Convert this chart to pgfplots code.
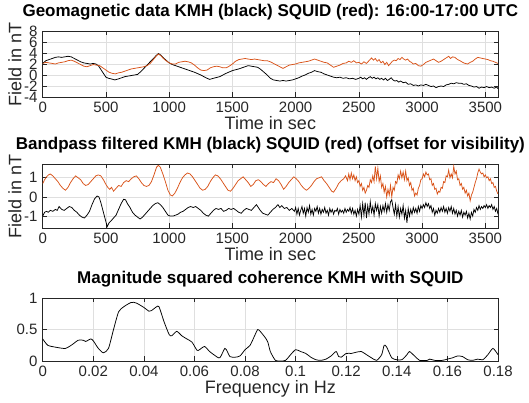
\documentclass[border=0pt]{standalone}
\usepackage{fontspec}
\setmainfont{Liberation Sans}
\usepackage{pgfplots}
\pgfplotsset{compat=1.18}
\definecolor{mred}{RGB}{217,83,25}
\definecolor{axgray}{RGB}{38,38,38}
\definecolor{gridgray}{RGB}{223,223,223}
\pgfplotsset{matlab/.style={
  scale only axis, width=455.3pt,
  axis line style={axgray, line width=0.6pt},
  tick style={axgray, line width=0.6pt},
  tick align=inside, major tick length=4.5pt,
  grid=major, major grid style={gridgray, line width=0.6pt},
  tick label style={font=\fontsize{15}{15}\selectfont, text=axgray},
  /pgf/number format/assume math mode=true,
  /pgf/number format/1000 sep={},
  xticklabel style={anchor=base, inner sep=0pt, yshift=-16pt},
  yticklabel style={anchor=east, inner sep=0pt, xshift=-5pt},
  label style={font=\fontsize{18}{18}\selectfont, text=axgray},
  xlabel style={at={(axis description cs:0.5,0)}, anchor=base, yshift=-33pt},
  ylabel style={at={(axis description cs:-0.047,0.5)}, anchor=base},
  title style={font=\bfseries\fontsize{17}{17}\selectfont, at={(axis description cs:0.5,1)}, anchor=base, yshift=8pt, inner sep=0pt},
  every axis plot/.append style={line width=0.75pt, mark=none},
}}
\begin{document}
\begin{tikzpicture}
\useasboundingbox (0,0) rectangle (529pt,403pt);

% ---------------- raw data
\begin{axis}[matlab, at={(42.7pt,306pt)}, anchor=south west, height=66pt,
  xmin=0, xmax=3600, xtick={0,500,...,3500},
  ymin=-4, ymax=8, ytick={-4,-2,...,8},
  title={Geomagnetic data KMH (black) SQUID (red): 16:00-17:00 UTC},
  xlabel={Time in sec}, ylabel={Field in nT}]
\addplot[black] coordinates {
(0,2.1)(25,2.6)(50,2.8)(75,3.0)(100,3.2)(125,3.3)(150,3.2)(175,3.3)(200,3.4)(225,3.3)
(250,3.0)(275,2.7)(300,2.4)(325,2.2)(350,2.1)(375,2.0)(400,2.1)(420,2.0)(440,1.7)(460,1.0)
(480,0.3)(500,-0.4)(520,-0.6)(540,-0.7)(570,-0.9)(600,-0.7)(625,-0.5)(650,-0.3)(675,-0.2)(700,-0.1)
(725,0.0)(750,0.1)(775,0.6)(800,1.2)(825,1.8)(850,2.4)(875,3.0)(900,3.6)(915,3.9)(935,3.6)
(950,3.2)(975,2.7)(1000,2.2)(1025,1.9)(1050,1.7)(1100,1.3)(1150,0.9)(1200,0.5)(1250,0.0)(1290,-0.5)
(1320,-0.8)(1350,-0.6)(1400,-0.3)(1450,0.3)(1500,0.8)(1550,1.1)(1600,1.5)(1625,1.7)(1650,1.6)(1700,1.4)
(1725,1.0)(1750,0.5)(1775,0.0)(1800,-0.6)(1825,-0.9)(1850,-1.0)(1875,-1.1)(1900,-1.0)(1925,-1.1)(1950,-1.0)
(1975,-0.9)(2000,-0.7)(2025,-0.5)(2050,-0.2)(2075,0.0)(2100,0.3)(2125,0.5)(2150,0.8)(2175,0.6)(2200,0.5)
(2225,0.2)(2250,0.0)(2275,-0.2)(2300,-0.4)(2325,-0.5)(2350,-0.4)(2375,-0.6)(2400,-0.5)(2425,-0.7)(2450,-0.6)
(2475,-0.8)(2500,-0.6)(2515,-0.4)(2530,-0.7)(2545,-0.5)(2560,-0.8)(2575,-0.5)(2590,-0.3)(2605,-0.6)(2620,-0.4)
(2635,-0.7)(2650,-0.5)(2665,-0.8)(2680,-0.6)(2695,-0.9)(2710,-0.6)(2725,-1.0)(2740,-0.8)(2755,-0.5)(2770,-0.9)
(2785,-1.1)(2800,-1.0)(2815,-1.3)(2830,-1.1)(2850,-1.4)(2870,-1.3)(2890,-1.7)(2910,-1.6)(2930,-1.9)(2950,-1.8)
(2970,-2.0)(2990,-1.8)(3010,-1.9)(3030,-1.7)(3050,-1.9)(3070,-2.1)(3090,-2.0)(3110,-2.3)(3130,-2.1)(3150,-2.0)
(3170,-2.1)(3190,-1.8)(3210,-1.7)(3230,-1.5)(3250,-1.6)(3270,-1.4)(3290,-1.5)(3310,-1.5)(3330,-1.7)(3350,-1.6)
(3370,-1.9)(3390,-2.0)(3410,-2.2)(3430,-2.1)(3450,-2.4)(3470,-2.2)(3490,-2.3)(3510,-2.1)(3530,-2.3)(3550,-2.2)
(3570,-2.4)(3590,-2.2)(3600,-2.5)
};
\addplot[mred] coordinates {
(0,2.1)(25,2.3)(50,2.2)(75,2.1)(100,2.0)(125,2.2)(150,2.3)(175,2.4)(200,2.6)(225,2.7)
(250,2.5)(275,2.2)(300,1.9)(325,1.6)(350,1.5)(375,1.7)(400,1.9)(425,1.8)(450,1.7)(475,1.3)
(500,0.9)(525,0.5)(550,0.3)(575,0.2)(600,0.4)(625,0.5)(650,0.7)(675,0.9)(700,1.1)(725,1.2)
(750,1.3)(775,1.4)(800,1.5)(825,1.7)(850,2.1)(875,2.8)(900,3.5)(915,3.8)(935,3.5)(950,3.1)
(975,2.6)(1000,2.2)(1025,2.0)(1050,2.0)(1075,2.3)(1100,2.4)(1125,2.5)(1150,2.4)(1175,2.2)(1200,1.8)
(1225,1.3)(1250,0.9)(1275,0.8)(1300,0.9)(1325,1.3)(1350,1.5)(1375,1.6)(1400,1.5)(1425,1.3)(1450,1.3)
(1475,1.6)(1500,2.0)(1525,2.5)(1550,2.8)(1575,2.9)(1600,3.0)(1625,2.9)(1650,2.8)(1675,2.9)(1700,2.8)
(1725,2.7)(1750,2.6)(1775,2.6)(1800,2.4)(1825,2.1)(1850,1.8)(1875,1.5)(1900,1.2)(1925,1.5)(1950,1.8)
(1975,1.9)(2000,2.0)(2025,2.2)(2050,2.3)(2075,2.4)(2100,2.5)(2125,2.7)(2150,2.9)(2175,2.7)(2200,2.5)
(2225,2.3)(2250,2.2)(2275,1.8)(2300,1.4)(2325,1.6)(2350,1.8)(2375,2.1)(2400,2.2)(2420,2.5)(2440,2.3)
(2460,2.6)(2480,2.2)(2500,2.3)(2520,2.0)(2540,2.4)(2560,2.1)(2580,2.6)(2600,3.1)(2615,2.7)(2630,3.0)
(2645,2.5)(2660,2.8)(2675,2.2)(2690,2.5)(2705,1.9)(2720,2.3)(2735,1.7)(2750,2.1)(2765,2.5)(2780,2.7)
(2795,2.6)(2810,3.0)(2825,2.8)(2840,3.2)(2855,2.9)(2870,2.7)(2885,2.9)(2900,2.5)(2915,2.3)(2930,2.0)
(2950,2.1)(2970,1.7)(2990,1.6)(3010,1.9)(3030,2.3)(3050,2.5)(3070,2.7)(3090,2.9)(3110,2.6)(3130,2.3)
(3150,2.5)(3170,2.8)(3190,3.1)(3210,3.4)(3225,3.0)(3240,3.3)(3260,3.2)(3280,2.8)(3300,2.6)(3320,2.3)
(3340,2.1)(3360,2.0)(3380,2.3)(3400,2.5)(3420,2.9)(3440,3.2)(3460,3.1)(3480,3.0)(3500,2.9)(3520,2.8)
(3540,2.6)(3560,2.5)(3580,2.3)(3600,2.1)
};
\end{axis}

% ---------------- bandpass filtered
\begin{axis}[matlab, at={(42.7pt,175pt)}, anchor=south west, height=64pt,
  xmin=0, xmax=3600, xtick={0,500,...,3500},
  ymin=-1.62, ymax=1.72, ytick={-1,0,1},
  title={Bandpass filtered KMH (black) SQUID (red) (offset for visibility)},
  xlabel={Time in sec}, ylabel={Field in nT}]
\addplot[mred] coordinates {
(0,0.7)(15,0.9)(30,1.05)(45,1.15)(60,1.2)(80,1.1)(100,0.95)(120,0.8)(140,0.6)(160,0.45)
(180,0.35)(200,0.5)(220,0.75)(240,0.95)(260,1.1)(280,1.0)(300,0.9)(320,0.7)(340,0.6)(360,0.65)
(380,0.8)(400,0.95)(420,1.1)(440,1.15)(460,1.1)(480,0.9)(500,0.65)(515,0.5)(530,0.4)(545,0.5)
(560,0.3)(580,0.45)(600,0.6)(620,0.55)(640,0.75)(660,0.85)(680,0.8)(700,0.95)(720,1.05)(740,1.1)
(760,0.95)(780,0.75)(800,0.6)(820,0.55)(840,0.6)(860,0.8)(880,1.15)(900,1.55)(915,1.65)(930,1.55)
(950,1.2)(970,0.8)(990,0.35)(1010,0.1)(1025,0.05)(1045,0.2)(1065,0.45)(1085,0.75)(1105,1.0)(1125,1.15)
(1145,1.25)(1165,1.2)(1185,1.05)(1205,0.85)(1225,0.65)(1245,0.45)(1265,0.35)(1285,0.4)(1305,0.55)(1325,0.8)
(1345,1.0)(1365,1.15)(1385,1.1)(1405,0.95)(1425,0.75)(1445,0.55)(1465,0.35)(1485,0.3)(1505,0.45)(1525,0.65)
(1545,0.85)(1565,0.95)(1585,1.05)(1605,0.9)(1625,0.75)(1645,0.55)(1665,0.65)(1685,0.85)(1705,0.9)(1725,0.8)
(1745,0.65)(1765,0.55)(1785,0.7)(1805,0.8)(1825,0.75)(1845,0.95)(1865,0.85)(1885,0.65)(1905,0.4)(1925,0.55)
(1945,0.75)(1965,0.9)(1985,1.05)(2005,0.95)(2025,0.8)(2045,0.6)(2065,0.45)(2085,0.35)(2105,0.45)(2125,0.6)
(2145,0.8)(2165,0.95)(2185,1.0)(2205,1.05)(2225,0.85)(2245,0.7)(2265,0.5)(2285,0.3)(2300,0.25)(2320,0.45)
(2340,0.7)(2360,0.85)(2380,0.95)(2395,1.1)(2410,0.85)(2420,1.2)(2430,0.9)(2440,1.25)(2450,0.95)(2460,1.15)
(2470,0.85)(2480,1.05)(2490,0.75)(2500,0.85)(2510,0.55)(2520,0.7)(2530,0.35)(2540,0.5)(2550,0.2)(2560,0.35)
(2570,0.6)(2580,0.5)(2590,0.9)(2600,0.75)(2610,1.1)(2620,0.8)(2630,1.6)(2640,0.95)(2650,1.5)(2660,0.8)
(2670,1.1)(2680,0.5)(2690,0.7)(2700,0.25)(2710,0.55)(2720,0.0)(2730,0.4)(2740,0.1)(2750,0.6)(2760,0.0)
(2770,0.5)(2780,0.35)(2790,0.8)(2800,0.7)(2810,1.15)(2820,0.95)(2830,1.35)(2840,1.0)(2850,1.3)(2860,0.9)
(2870,1.35)(2880,0.85)(2890,1.0)(2900,0.6)(2910,0.75)(2920,0.35)(2930,0.45)(2940,0.05)(2950,0.2)(2960,0.1)
(2970,0.45)(2980,0.6)(2990,0.9)(3000,0.95)(3010,1.2)(3020,1.05)(3030,1.3)(3040,1.15)(3050,1.2)(3060,0.9)
(3070,0.95)(3080,0.6)(3090,0.7)(3100,0.4)(3110,0.45)(3120,0.15)(3130,0.3)(3140,0.25)(3150,0.5)(3160,0.45)
(3170,0.8)(3180,0.75)(3190,1.1)(3200,1.05)(3210,1.4)(3220,1.0)(3230,1.2)(3240,1.0)(3250,1.6)(3260,1.2)
(3270,1.35)(3280,0.9)(3290,0.95)(3300,0.6)(3310,0.7)(3320,0.4)(3330,0.5)(3340,0.2)(3350,0.35)(3360,0.05)
(3370,0.2)(3380,-0.2)(3390,0.1)(3400,0.25)(3410,0.5)(3420,0.75)(3430,0.95)(3440,1.25)(3450,1.45)(3460,1.3)
(3470,1.2)(3480,1.25)(3490,1.05)(3500,1.15)(3510,1.0)(3520,1.05)(3530,0.85)(3540,0.95)(3550,0.7)(3560,0.75)
(3570,0.5)(3580,0.55)(3590,0.3)(3600,0.15)
};
\addplot[black] coordinates {
(0,-1.0)(15,-0.8)(30,-0.75)(45,-0.8)(60,-0.7)(80,-0.75)(100,-0.65)(115,-0.7)(130,-0.5)(150,-0.65)
(170,-0.7)(190,-0.6)(210,-0.5)(230,-0.55)(250,-0.7)(270,-0.8)(290,-0.95)(310,-1.05)(330,-1.1)(350,-0.95)
(370,-0.75)(390,-0.4)(410,-0.1)(430,0.05)(445,0.0)(460,-0.3)(480,-0.8)(500,-1.3)(510,-1.55)(525,-1.35)
(540,-1.25)(560,-1.1)(580,-0.95)(600,-0.65)(620,-0.35)(640,-0.12)(655,-0.15)(670,-0.35)(690,-0.55)(710,-0.8)
(730,-0.95)(750,-1.05)(770,-1.15)(790,-1.05)(810,-0.9)(830,-0.75)(850,-0.6)(870,-0.45)(890,-0.35)(910,-0.3)
(930,-0.4)(950,-0.55)(970,-0.75)(990,-0.95)(1010,-1.0)(1030,-1.0)(1050,-0.95)(1070,-0.9)(1090,-0.8)(1110,-0.75)
(1130,-0.65)(1150,-0.55)(1170,-0.5)(1190,-0.55)(1210,-0.5)(1230,-0.6)(1250,-0.7)(1270,-0.85)(1290,-0.95)(1310,-1.0)
(1330,-0.85)(1350,-0.7)(1370,-0.6)(1390,-0.65)(1410,-0.6)(1430,-0.75)(1450,-0.7)(1470,-0.6)(1490,-0.65)(1510,-0.6)
(1530,-0.7)(1550,-0.8)(1570,-0.85)(1590,-0.7)(1610,-0.6)(1630,-0.65)(1650,-0.7)(1670,-0.55)(1690,-0.4)(1705,-0.55)
(1720,-0.7)(1740,-0.85)(1760,-0.9)(1780,-0.95)(1800,-0.8)(1820,-0.65)(1840,-0.55)(1860,-0.4)(1875,-0.55)(1890,-0.45)
(1910,-0.6)(1930,-0.55)(1950,-0.7)(1970,-0.6)(1990,-0.75)(2000,-0.55)(2010,-0.9)(2020,-0.6)(2030,-0.95)(2040,-0.7)
(2050,-0.5)(2060,-0.85)(2070,-0.6)(2080,-1.0)(2090,-0.55)(2100,-0.8)(2110,-0.45)(2120,-0.9)(2130,-0.65)(2140,-0.95)
(2150,-0.6)(2160,-0.75)(2170,-0.5)(2180,-0.85)(2190,-0.6)(2200,-0.9)(2210,-0.65)(2220,-0.8)(2230,-0.55)(2240,-0.85)
(2250,-0.7)(2260,-0.95)(2270,-0.6)(2280,-0.8)(2290,-0.65)(2300,-0.9)(2310,-0.7)(2320,-0.75)(2330,-0.6)(2340,-0.9)
(2350,-0.65)(2360,-0.8)(2370,-0.7)(2380,-0.85)(2390,-0.6)(2400,-0.8)(2410,-0.65)(2420,-0.75)(2430,-0.55)(2440,-0.85)
(2450,-0.6)(2460,-0.9)(2470,-0.7)(2480,-1.0)(2490,-0.65)(2500,-0.9)(2510,-0.45)(2520,-1.05)(2530,-0.35)(2540,-0.95)
(2550,-0.3)(2560,-1.1)(2570,-0.45)(2580,-0.9)(2590,-0.25)(2600,-0.8)(2610,-0.5)(2620,-0.95)(2630,-0.35)(2640,-0.7)
(2650,-0.4)(2660,-1.0)(2670,-0.5)(2680,-0.85)(2690,-0.45)(2700,-0.75)(2710,-0.35)(2720,-0.8)(2730,-0.4)(2740,-0.7)
(2750,-0.25)(2760,-0.15)(2770,-0.55)(2780,-0.9)(2790,-0.4)(2800,-1.0)(2810,-0.5)(2820,-1.05)(2830,-0.6)(2840,-0.9)
(2850,-0.45)(2860,-1.1)(2870,-0.7)(2880,-1.35)(2890,-0.6)(2900,-1.0)(2910,-0.65)(2920,-0.9)(2930,-0.55)(2940,-0.8)
(2950,-0.6)(2960,-0.85)(2970,-0.5)(2980,-0.75)(2990,-0.45)(3000,-0.6)(3010,-0.4)(3020,-0.55)(3030,-0.3)(3040,-0.5)
(3050,-0.35)(3060,-0.6)(3070,-0.45)(3080,-0.8)(3090,-0.6)(3100,-0.95)(3110,-0.7)(3120,-0.85)(3130,-0.6)(3140,-0.8)
(3150,-0.55)(3160,-0.75)(3170,-0.5)(3180,-0.8)(3190,-0.6)(3200,-0.85)(3210,-0.55)(3220,-0.75)(3230,-0.5)(3240,-0.85)
(3250,-0.6)(3260,-0.9)(3270,-0.7)(3280,-1.0)(3290,-0.75)(3300,-0.95)(3310,-0.7)(3320,-1.05)(3330,-0.8)(3340,-0.95)
(3350,-0.75)(3360,-1.1)(3370,-0.85)(3380,-1.15)(3390,-0.8)(3400,-1.0)(3410,-0.65)(3420,-0.8)(3430,-0.55)(3440,-0.7)
(3450,-0.45)(3460,-0.65)(3470,-0.5)(3480,-0.6)(3490,-0.45)(3500,-0.55)(3510,-0.4)(3520,-0.6)(3530,-0.45)(3540,-0.55)
(3550,-0.4)(3560,-0.65)(3570,-0.5)(3580,-0.75)(3590,-0.6)(3600,-0.9)
};
\end{axis}

% ---------------- coherence
\begin{axis}[matlab, at={(42.7pt,42pt)}, anchor=south west, height=63pt,
  xmin=0, xmax=0.18, xtick={0,0.02,0.04,0.06,0.08,0.1,0.12,0.14,0.16,0.18},
  xticklabels={0,0.02,0.04,0.06,0.08,0.1,0.12,0.14,0.16,0.18},
  ymin=0, ymax=1, ytick={0,0.5,1},
  title={Magnitude squared coherence KMH with SQUID},
  xlabel={Frequency in Hz}]
\addplot[black, smooth, tension=0.4] coordinates {
(0,0.35)(0.002,0.25)(0.005,0.22)(0.009,0.2)(0.012,0.27)(0.014,0.33)(0.016,0.33)(0.017,0.31)(0.019,0.35)(0.020,0.32)
(0.022,0.2)(0.024,0.13)(0.026,0.2)(0.028,0.5)(0.030,0.78)(0.032,0.86)(0.035,0.93)(0.037,0.92)(0.040,0.85)(0.042,0.79)
(0.043,0.8)(0.045,0.86)(0.046,0.86)(0.048,0.62)(0.050,0.42)(0.051,0.40)(0.053,0.47)(0.055,0.4)(0.057,0.35)(0.059,0.3)
(0.061,0.17)(0.062,0.18)(0.064,0.23)(0.066,0.15)(0.068,0.09)(0.070,0.05)(0.072,0.2)(0.073,0.15)(0.074,0.07)(0.076,0.06)
(0.078,0.08)(0.080,0.18)(0.082,0.25)(0.084,0.42)(0.085,0.5)(0.086,0.47)(0.088,0.37)(0.089,0.3)(0.090,0.15)(0.092,0.01)
(0.094,0.0)(0.096,0.01)(0.098,0.1)(0.100,0.18)(0.102,0.15)(0.104,0.12)(0.106,0.06)(0.108,0.02)(0.110,0.01)(0.112,0.03)
(0.114,0.08)(0.116,0.15)(0.117,0.07)(0.118,0.06)(0.120,0.12)(0.122,0.12)(0.124,0.14)(0.126,0.15)(0.128,0.1)(0.130,0.05)
(0.132,0.01)(0.134,0.1)(0.135,0.25)(0.136,0.22)(0.138,0.05)(0.140,0.02)(0.142,0.02)(0.144,0.1)(0.145,0.15)(0.147,0.08)
(0.149,0.01)(0.152,0.01)(0.153,0.03)(0.155,0.01)(0.158,0.01)(0.160,0.03)(0.162,0.05)(0.164,0.08)(0.166,0.07)(0.168,0.02)
(0.170,0.01)(0.172,0.03)(0.174,0.02)(0.176,0.1)(0.178,0.2)(0.180,0.1)
};
\end{axis}
\end{tikzpicture}
\end{document}
